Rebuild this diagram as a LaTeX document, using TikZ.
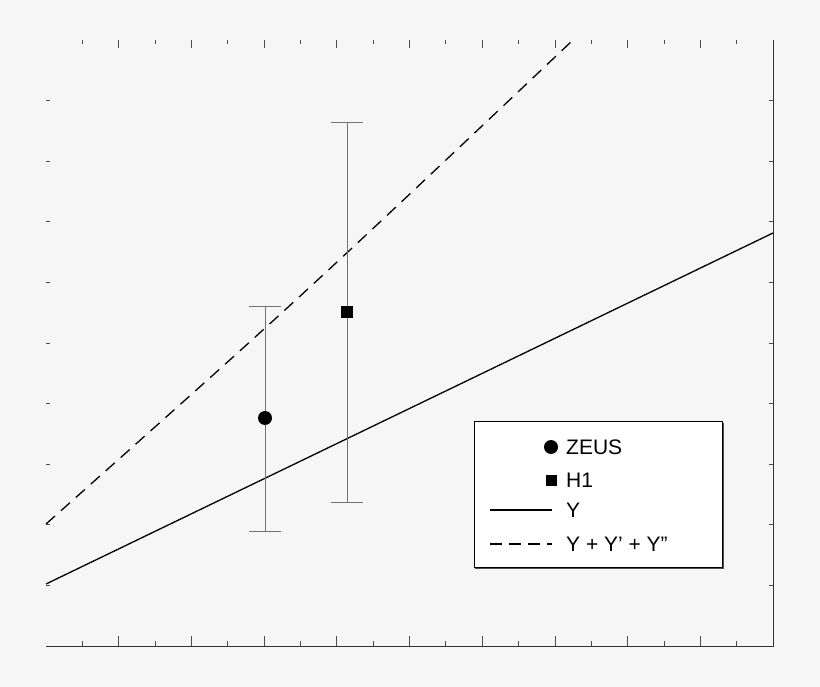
\documentclass[tikz,border=0pt]{standalone}
\usepackage{fontspec}
\setmainfont{Liberation Sans}
\begin{document}
\begin{tikzpicture}[x=1pt,y=-1pt,
  tk/.style={line width=0.8pt,black!70},
  err/.style={line width=0.7pt,black!55},
  lg/.style={font=\fontsize{21}{21}\selectfont,anchor=west,inner sep=0pt}]
\fill[white!96.5!black] (0,0) rectangle (820,687);
\useasboundingbox (0,0) rectangle (820,687);
\coordinate (bl) at (46,646); \coordinate (br) at (773,646); \coordinate (tr) at (773,40);
\draw[line width=1pt,black!80] (bl) -- (br) -- (tr);
\foreach \i in {1,...,19}{
  \pgfmathsetmacro\xx{46+\i*36.35}
  \ifodd\i
    \draw[tk] (\xx,646) -- (\xx,641); \draw[tk] (\xx,40) -- (\xx,44);
  \else
    \draw[tk] (\xx,646) -- (\xx,636); \draw[tk] (\xx,40) -- (\xx,48);
  \fi}
\foreach \i in {1,...,9}{
  \pgfmathsetmacro\yy{646-\i*60.6}
  \draw[tk] (46,\yy) -- (50,\yy); \draw[tk] (773,\yy) -- (769,\yy);}
\coordinate (s0) at (46,584); \coordinate (s1) at (773,233);
\coordinate (d0) at (46,524); \coordinate (d1) at (573,40);
\draw[line width=1.3pt] (s0) -- (s1);
\draw[line width=1.3pt,dash pattern=on 12pt off 8pt] (d0) .. controls (300,298) .. (d1);
% ZEUS
\draw[err] (265,306) -- (265,531);
\draw[err] (249,306) -- (281,306); \draw[err] (249,531) -- (281,531);
\node[circle,fill=black,inner sep=0pt,minimum size=14pt] (zeus) at (265,418) {};
% H1
\draw[err] (347,122) -- (347,502);
\draw[err] (331,122) -- (363,122); \draw[err] (331,502) -- (363,502);
\node[rectangle,fill=black,inner sep=0pt,minimum size=12pt] (h1) at (347,312) {};
% legend
\fill[black!70] (475,422.5) rectangle (723.5,568.5);
\node[draw=black,fill=white,line width=1.2pt,minimum width=248pt,minimum height=146pt,anchor=north west,inner sep=0pt] (leg) at (474,421) {};
\node[circle,fill=black,inner sep=0pt,minimum size=14pt] (lz) at (551,447) {};
\node[lg] (tz) at (566,447) {ZEUS};
\node[rectangle,fill=black,inner sep=0pt,minimum size=11pt] (lh) at (551,480) {};
\node[lg] (th) at (566,480) {H1};
\coordinate (la) at (490,510); \coordinate (lb) at (552,510);
\draw[line width=1.3pt] (la) -- (lb);
\node[lg] (ty) at (566,510) {Y};
\coordinate (lc) at (490,544); \coordinate (ld) at (552,544);
\draw[line width=1.3pt,dash pattern=on 12pt off 7pt] (lc) -- (ld);
\node[lg] (tyy) at (566,544) {Y + Y' + Y''};
\end{tikzpicture}
\end{document}
